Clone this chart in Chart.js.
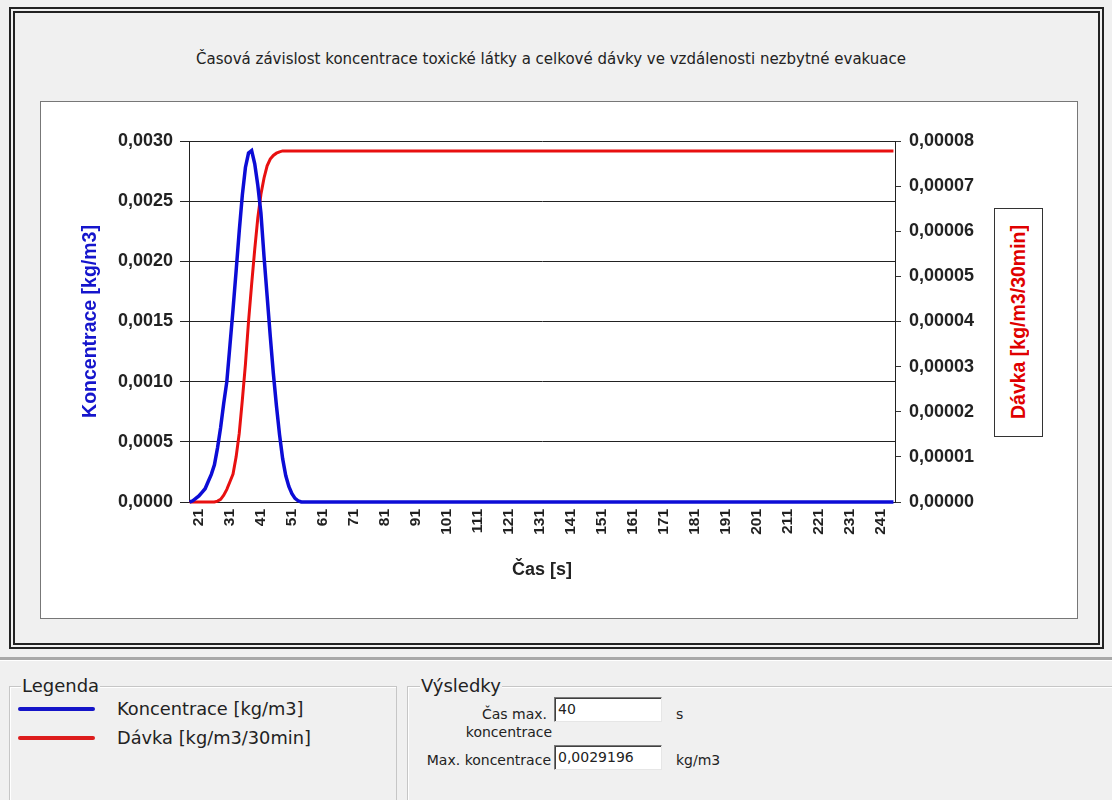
<!DOCTYPE html>
<html>
<head>
<meta charset="utf-8">
<script src="https://cdn.jsdelivr.net/npm/chart.js@4.4.1/dist/chart.umd.min.js"></script>
<style>
  body { margin:0; width:1112px; height:800px; background:#f0f0f0; position:relative; overflow:hidden;
         font-family:"DejaVu Sans", sans-serif; color:#222; }
  .abs { position:absolute; }
  #frame { left:9px; top:7px; width:1095px; height:642px; border:6px double #222; box-sizing:border-box; }
  #title { left:0; width:1102px; top:50px; text-align:center; font-size:15px; }
  #plot { left:40px; top:101px; width:1036px; height:516px; border:1px solid #777; background:#fff; }
  #plot canvas { position:absolute; left:0; top:0; }
  #davka { left:994px; top:208px; width:49px; height:229px; border:1px solid #333; background:#fff;
           box-sizing:border-box; display:flex; align-items:center; justify-content:center; }
  #davka span { writing-mode:vertical-rl; transform:rotate(180deg); color:#e00000;
                font:bold 19.5px "Liberation Sans", Arial, sans-serif; }
  #sep { left:0; top:657px; width:1112px; height:3px; background:#a8a8a8; border-bottom:1px solid #fff; }
  .group { border:1px solid #c6c6c6; box-shadow:inset 1px 1px 0 #fff; }
  .glabel { position:absolute; top:-12px; background:#f0f0f0; font-size:18px; line-height:22px; padding:0 1px; }
  .item { font-size:17.8px; line-height:22px; }
  .line { height:4px; border-radius:2px; }
  .small { font-size:14px; line-height:18px; }
  .input { background:#fff; width:108px; height:25px; box-sizing:border-box;
           border:1px solid; border-color:#7a7a7a #e6e6e6 #e6e6e6 #7a7a7a; box-shadow:inset 1px 1px 0 #404040;
           font-size:14px; line-height:23px; padding-left:3px; }
</style>
</head>
<body>
<div id="frame" class="abs"></div>
<div id="title" class="abs">Časová závislost koncentrace toxické látky a celkové dávky ve vzdálenosti nezbytné evakuace</div>
<div id="plot" class="abs"><canvas id="canvas" width="1036" height="516"></canvas></div>
<div id="davka" class="abs"><span>Dávka [kg/m3/30min]</span></div>
<div id="sep" class="abs"></div>

<div class="abs group" style="left:9px; top:686px; width:386px; height:140px;">
  <span class="glabel" style="left:11px;">Legenda</span>
</div>
<div class="abs line" style="left:18px; top:707px; width:77px; background:#1414c8;"></div>
<div class="abs item" style="left:117px; top:698px;">Koncentrace [kg/m3]</div>
<div class="abs line" style="left:18px; top:736px; width:77px; background:#dd1c1c;"></div>
<div class="abs item" style="left:117px; top:727px;">Dávka [kg/m3/30min]</div>

<div class="abs group" style="left:407px; top:686px; width:720px; height:140px;">
  <span class="glabel" style="left:12px;">Výsledky</span>
</div>
<div class="abs small" style="left:437px; width:110px; top:705px; text-align:right;">Čas max.</div>
<div class="abs small" style="left:449px; width:120px; top:723px; text-align:center;">koncentrace</div>
<div class="abs input" style="left:554px; top:697px;">40</div>
<div class="abs small" style="left:676px; top:705px;">s</div>
<div class="abs small" style="left:401px; width:150px; top:751px; text-align:right;">Max. koncentrace</div>
<div class="abs input" style="left:554px; top:745px;">0,0029196</div>
<div class="abs small" style="left:676px; top:751px;">kg/m3</div>

<script>
// time [s] - dense around the peak, then the flat tail to the end of the axis
let times = [18, 19, 20, 21, 22, 23, 24, 25, 26, 27, 28, 29, 30, 31, 32, 33, 34, 35, 36, 37,
             38, 39, 40, 41, 42, 43, 44, 45, 46, 47, 48, 49, 50, 51, 52, 53, 54, 55, 56, 245];

// concentration [kg/m3] (left axis)
let koncentrace = [0, 0.00001, 0.00003, 0.00005, 0.00008, 0.00011, 0.00017, 0.00023, 0.00031, 0.00045,
                   0.00062, 0.00082, 0.00100, 0.00130, 0.00160, 0.00192, 0.00225, 0.00255, 0.00278, 0.00290,
                   0.00292, 0.00281, 0.00263, 0.00240, 0.00204, 0.00171, 0.00138, 0.00107, 0.00080, 0.00056,
                   0.00036, 0.00022, 0.00013, 0.00007, 0.00003, 0.00001, 0, 0, 0, 0];

// dose [kg/m3/30min] (right axis)
let davka = [0, 0, 0, 0, 0, 0, 0, 0, 0, 0.0000002,
             0.0000006, 0.0000015, 0.0000028, 0.0000045, 0.0000062, 0.0000100, 0.0000152, 0.0000226, 0.0000305, 0.0000400,
             0.0000482, 0.0000560, 0.0000630, 0.0000682, 0.0000718, 0.0000745, 0.0000760, 0.0000768, 0.0000773, 0.0000776,
             0.0000778, 0.0000778, 0.0000778, 0.0000778, 0.0000778, 0.0000778, 0.0000778, 0.0000778, 0.0000778, 0.0000778];

// labels under the time axis
let xTickLabels = [21, 31, 41, 51, 61, 71, 81, 91, 101, 111, 121, 131, 141, 151, 161, 171, 181, 191, 201, 211, 221, 231, 241];

Chart.defaults.font.family = '"Liberation Sans", Arial, sans-serif';
Chart.defaults.color = '#222';

let options = {
  type: 'line',
  data: {
    datasets: [{
      label: 'Koncentrace [kg/m3]',
      data: times.map((t, i) => ({x: t, y: koncentrace[i]})),
      borderColor: '#0c0cd6',
      borderWidth: 3.5,
      pointRadius: 0,
      yAxisID: 'y',
      clip: false
    }, {
      label: 'Dávka [kg/m3/30min]',
      data: times.map((t, i) => ({x: t, y: davka[i]})),
      borderColor: '#e81010',
      borderWidth: 3,
      pointRadius: 0,
      yAxisID: 'y1',
      clip: false
    }]
  },
  options: {
    animation: false,
    responsive: false,
    layout: { padding: { top: 39, left: 0, right: 0, bottom: 0 } },
    plugins: {
      legend: { display: false },
      tooltip: { enabled: false }
    },
    scales: {
      x: {
        type: 'linear',
        min: 17.8,
        max: 245.5,
        afterBuildTicks: s => { s.ticks = xTickLabels.map(v => ({value: v})); },
        afterFit: s => { s.height = 116; },
        grid: { display: false, drawTicks: false },
        border: { color: '#222', width: 1 },
        ticks: {
          autoSkip: false, minRotation: 90, maxRotation: 90, padding: 7,
          callback: v => String(v),
          font: { size: 15.5, weight: 'bold' }
        },
        title: {
          display: true, text: 'Čas [s]',
          font: { size: 18, weight: 'bold' },
          padding: { top: 0, bottom: 37 }
        }
      },
      y: {
        position: 'left',
        min: 0,
        max: 0.003,
        afterFit: s => { s.width = 148; },
        grid: { color: '#222', tickLength: 9 },
        border: { color: '#222' },
        ticks: {
          stepSize: 0.0005, padding: 7,
          callback: v => v.toFixed(4).replace('.', ','),
          font: { size: 18, weight: 'bold' }
        },
        title: {
          display: true, text: 'Koncentrace [kg/m3]', color: '#1515cc',
          font: { size: 19.5, weight: 'bold' },
          padding: { top: 38, bottom: 0 }
        }
      },
      y1: {
        position: 'right',
        min: 0,
        max: 0.00008,
        afterFit: s => { s.width = 182; },
        grid: { drawOnChartArea: false, color: '#333', tickLength: 6 },
        border: { color: '#222' },
        ticks: {
          stepSize: 0.00001, padding: 8,
          callback: v => v.toFixed(5).replace('.', ','),
          font: { size: 18, weight: 'bold' }
        }
      }
    }
  }
};

let chart = new Chart(document.getElementById('canvas'), options);
</script>
</body>
</html>
